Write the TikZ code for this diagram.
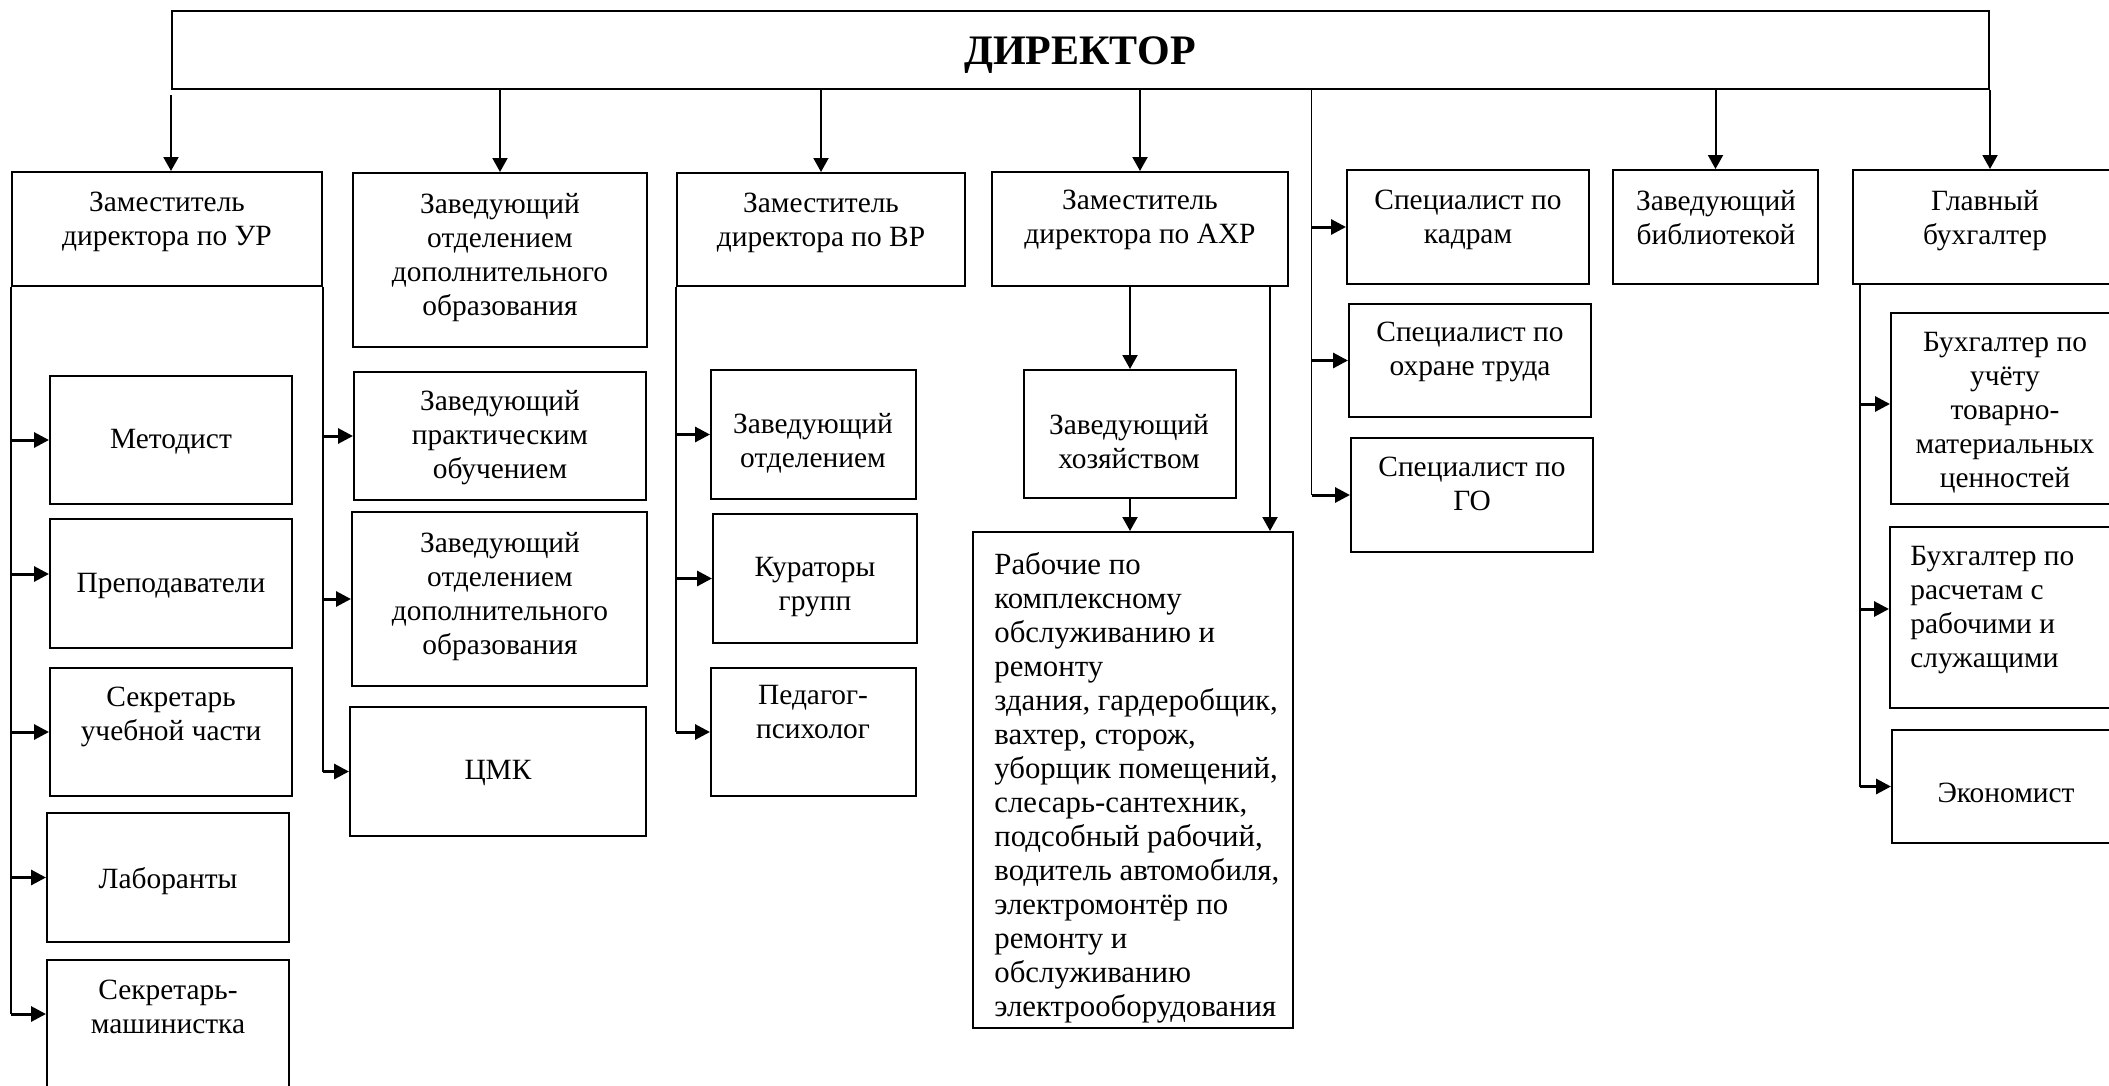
\documentclass[tikz,border=0pt]{standalone}
\usepackage{fontspec}
\setmainfont{Liberation Serif}
\usetikzlibrary{fit,arrows.meta,calc}
\tikzset{
  box/.style={draw, line width=1pt, inner sep=0pt},
  lbl/.style={font=\fontsize{14.7}{17}\selectfont, align=center, inner sep=0pt, anchor=north},
  lbll/.style={font=\fontsize{14.7}{17}\selectfont, align=left, inner sep=0pt, anchor=north west},
  ln/.style={line width=0.9pt},
  arr/.style={line width=1pt, -{Triangle[length=7pt,width=7.5pt]}},
  harr/.style={line width=1.5pt, -{Triangle[length=7.4pt,width=7.4pt]}}
}
\begin{document}
\begin{tikzpicture}[x=0.5pt,y=-0.5pt]
\useasboundingbox (0,0) rectangle (2109,1086);
\fill[white] (0,0) rectangle (2109,1086);
\clip (0,0) rectangle (2109,1086);

% boxes
\node[box, fit={(172,11) (1989,89)}] (dir) {};
\node[font=\fontsize{21}{24}\selectfont\bfseries, inner sep=0pt] (dirT) at (1080,55) {ДИРЕКТОР};

\node[box, fit={(12,172) (322,286)}] (zur) {};
\node[box, fit={(353,173) (647,347)}] (zdo1) {};
\node[box, fit={(677,173) (965,286)}] (zvr) {};
\node[box, fit={(992,172) (1288,286)}] (zaxr) {};
\node[box, fit={(1347,170) (1589,284)}] (kadr) {};
\node[box, fit={(1613,170) (1818,284)}] (bibl) {};
\node[box, fit={(1853,170) (2117,284)}] (gb) {};

\node[box, fit={(50,376) (292,504)}] (metod) {};
\node[box, fit={(50,519) (292,648)}] (prep) {};
\node[box, fit={(50,668) (292,796)}] (sekr) {};
\node[box, fit={(47,813) (289,942)}] (lab) {};
\node[box, fit={(47,960) (289,1100)}] (mash) {};

\node[box, fit={(354,372) (646,500)}] (prak) {};
\node[box, fit={(352,512) (647,686)}] (zdo2) {};
\node[box, fit={(350,707) (646,836)}] (cmk) {};

\node[box, fit={(711,370) (916,499)}] (zotd) {};
\node[box, fit={(713,514) (917,643)}] (kur) {};
\node[box, fit={(711,668) (916,796)}] (ped) {};

\node[box, fit={(1024,370) (1236,498)}] (zh) {};
\node[box, fit={(973,532) (1293,1028)}] (rab) {};

\node[box, fit={(1349,304) (1591,417)}] (ohr) {};
\node[box, fit={(1351,438) (1593,552)}] (go) {};

\node[box, fit={(1891,313) (2120,504)}] (tmc) {};
\node[box, fit={(1890,527) (2120,708)}] (ras) {};
\node[box, fit={(1892,730) (2120,843)}] (eko) {};

% labels
\node[lbl] (zurT) at (167,192) {Заместитель\\директора по УР};
\node[lbl] (zdo1T) at (500,193) {Заведующий\\отделением\\дополнительного\\образования};
\node[lbl] (zvrT) at (821,193) {Заместитель\\директора по ВР};
\node[lbl] (zaxrT) at (1140,190) {Заместитель\\директора по АХР};
\node[lbl] (kadrT) at (1468,190) {Специалист по\\кадрам};
\node[lbl] (biblT) at (1716,190) {Заведующий\\библиотекой};
\node[lbl] (gbT) at (1985,190) {Главный\\бухгалтер};

\node[lbl] (metodT) at (171,429) {Методист};
\node[lbl] (prepT) at (171,573) {Преподаватели};
\node[lbl] (sekrT) at (171,687) {Секретарь\\учебной части};
\node[lbl] (labT) at (168,867) {Лаборанты};
\node[lbl] (mashT) at (168,980) {Секретарь-\\машинистка};

\node[lbl] (prakT) at (500,390) {Заведующий\\практическим\\обучением};
\node[lbl] (zdo2T) at (500,532) {Заведующий\\отделением\\дополнительного\\образования};
\node[lbl] (cmkT) at (498,760) {ЦМК};

\node[lbl] (zotdT) at (813,413) {Заведующий\\отделением};
\node[lbl] (kurT) at (815,557) {Кураторы\\групп};
\node[lbl] (pedT) at (813,685) {Педагог-\\психолог};

\node[lbl] (zhT) at (1129,414) {Заведующий\\хозяйством};
\node[lbll, font=\fontsize{15.4}{17}\selectfont] (rabT) at (994,552) {Рабочие по\\комплексному\\обслуживанию и\\ремонту\\здания, гардеробщик,\\вахтер, сторож,\\уборщик помещений,\\слесарь-сантехник,\\подсобный рабочий,\\водитель автомобиля,\\электромонтёр по\\ремонту и\\обслуживанию\\электрооборудования};

\node[lbl] (ohrT) at (1470,322) {Специалист по\\охране труда};
\node[lbl] (goT) at (1472,457) {Специалист по\\ГО};

\node[lbl] (tmcT) at (2005,332) {Бухгалтер по\\учёту\\товарно-\\материальных\\ценностей};
\node[lbll] (rasT) at (1910,546) {Бухгалтер по\\расчетам с\\рабочими и\\служащими};
\node[lbl] (ekoT) at (2006,783) {Экономист};

% director arrows
\draw[arr] ([yshift=-2.5pt]dir.south west) -- (dir.south west |- zur.north);
\draw[arr] (dir.south -| zdo1.north) -- (zdo1.north);
\draw[arr] (dir.south -| zvr.north) -- (zvr.north);
\draw[arr] (dir.south -| zaxr.north) -- (zaxr.north);
\draw[arr] (dir.south -| bibl.north) -- (bibl.north);
\draw[arr] (dir.south east) -- (dir.south east |- gb.north);

% specialists spine
\coordinate (sp) at ($(dir.south west)!0.627!(dir.south east)$);
\draw[ln] (sp) -- (sp |- go.west);
\draw[harr] (sp |- kadr.west) -- (kadr.west);
\draw[harr] (sp |- ohr.west) -- (ohr.west);
\draw[harr] (sp |- go.west) -- (go.west);

% left spine
\coordinate (prepIn) at ([yshift=4.75pt]prep.west);
\coordinate (mashIn) at ([yshift=8pt]mash.west);
\draw[ln] (zur.south west) -- (zur.south west |- mashIn);
\draw[harr] (zur.south west |- metod.west) -- (metod.west);
\draw[harr] (zur.south west |- prepIn) -- (prepIn);
\draw[harr] (zur.south west |- sekr.west) -- (sekr.west);
\draw[harr] (zur.south west |- lab.west) -- (lab.west);
\draw[harr] (zur.south west |- mashIn) -- (mashIn);

% second spine
\draw[ln] (zur.south east) -- (zur.south east |- cmk.west);
\draw[harr] (zur.south east |- prak.west) -- (prak.west);
\draw[harr] (zur.south east |- zdo2.west) -- (zdo2.west);
\draw[harr] (zur.south east |- cmk.west) -- (cmk.west);

% VR spine
\draw[ln] (zvr.south west) -- (zvr.south west |- ped.west);
\draw[harr] (zvr.south west |- zotd.west) -- (zotd.west);
\draw[harr] (zvr.south west |- kur.west) -- (kur.west);
\draw[harr] (zvr.south west |- ped.west) -- (ped.west);

% AXR
\draw[arr] (zaxr.south -| zh.north) -- (zh.north);
\draw[arr] (zh.south) -- (zh.south |- rab.north);
\coordinate (ax2) at ([xshift=-9.5pt]zaxr.south east);
\draw[arr] (ax2) -- (ax2 |- rab.north);

% accounting spine
\coordinate (bt) at ([xshift=4pt]gb.south west);
\coordinate (tmcIn) at ([yshift=2.25pt]tmc.west);
\coordinate (rasIn) at ([yshift=4.25pt]ras.west);
\draw[ln] (bt) -- (bt |- eko.west);
\draw[harr] (bt |- tmcIn) -- (tmcIn);
\draw[harr] (bt |- rasIn) -- (rasIn);
\draw[harr] (bt |- eko.west) -- (eko.west);
\end{tikzpicture}
\end{document}
